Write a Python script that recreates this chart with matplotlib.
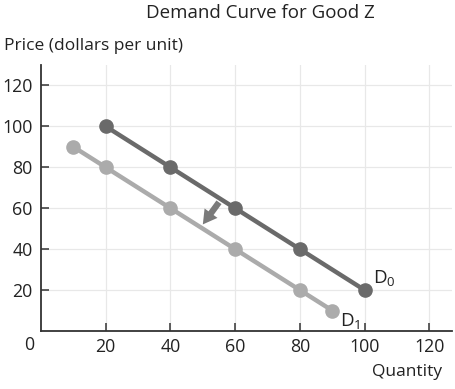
import matplotlib.pyplot as plt

plt.rcParams['font.family'] = ['Open Sans', 'DejaVu Sans']

d0_qty = [20, 40, 60, 80, 100]
d0_price = [100, 80, 60, 40, 20]
d1_qty = [10, 20, 40, 60, 80, 90]
d1_price = [90, 80, 60, 40, 20, 10]
ticks = [20, 40, 60, 80, 100, 120]

fig = plt.figure(figsize=(4.56, 3.89), dpi=100)
ax = fig.add_axes([41 / 456, 58 / 389, 411 / 456, 266 / 389])
ax.set_xlim(0, 127)
ax.set_ylim(0, 130)

ax.set_xticks(ticks)
ax.set_yticks(ticks)
ax.grid(True, color='#e8e8e8', linewidth=0.9)
ax.set_axisbelow(True)
for s in ['top', 'right']:
    ax.spines[s].set_visible(False)
for s in ['left', 'bottom']:
    ax.spines[s].set_color('#333333')
    ax.spines[s].set_linewidth(1.3)
ax.tick_params(direction='in', length=6, width=1.1, color='#333333',
               labelsize=12.8, labelcolor='#222222')
ax.tick_params(axis='x', pad=5)
ax.tick_params(axis='y', pad=6)

ax.plot(d0_qty, d0_price, color='#6a6a6a', linewidth=3.2, marker='o',
        markersize=9.5, zorder=4)
ax.plot(d1_qty, d1_price, color='#ababab', linewidth=3.2, marker='o',
        markersize=9.5, zorder=3)

ax.annotate('', xy=(49.5, 51), xytext=(55.5, 64),
            arrowprops=dict(arrowstyle='simple,head_length=1.0,head_width=1.15,tail_width=0.45',
                            color='#7a7a7a', lw=0), zorder=5)

ax.text(102.5, 21, r'$\mathregular{D_0}$', fontsize=13.5, color='#222222',
        va='bottom', ha='left')
ax.text(92.5, 5, r'$\mathregular{D_1}$', fontsize=13.5, color='#222222',
        va='center', ha='left')

fig.text(29 / 456, 1 - 345 / 389, '0', fontsize=12.8, color='#222222',
         ha='center', va='center')
fig.text(260 / 456, 1 - 13 / 389, 'Demand Curve for Good Z', fontsize=13.5,
         color='#222222', ha='center', va='center')
fig.text(4 / 456, 1 - 46 / 389, 'Price (dollars per unit)', fontsize=12.5,
         color='#222222', ha='left', va='center')
fig.text(442 / 456, 1 - 372 / 389, 'Quantity', fontsize=12.5,
         color='#222222', ha='right', va='center')

fig.savefig('out.png', dpi=100)
